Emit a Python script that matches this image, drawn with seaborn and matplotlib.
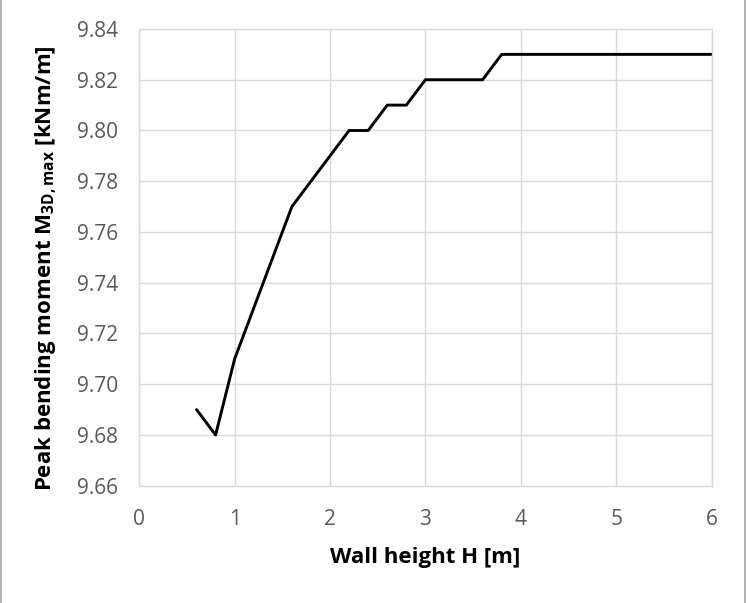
import matplotlib
matplotlib.use("Agg")
import matplotlib.pyplot as plt
from matplotlib.lines import Line2D
import seaborn as sns
import pandas as pd

# Wall height H [m] and peak bending moment M_3D,max [kNm/m]
wall_height = [0.6, 0.8, 1.0, 1.2, 1.4, 1.6, 1.8, 2.0, 2.2, 2.4, 2.6, 2.8,
               3.0, 3.2, 3.4, 3.6, 3.8, 4.0, 4.5, 5.0, 5.5, 6.0]
peak_moment = [9.69, 9.68, 9.71, 9.73, 9.75, 9.77, 9.78, 9.79, 9.80, 9.80, 9.81, 9.81,
               9.82, 9.82, 9.82, 9.82, 9.83, 9.83, 9.83, 9.83, 9.83, 9.83]
x_ticks = [0, 1, 2, 3, 4, 5, 6]
y_ticks = [9.66, 9.68, 9.70, 9.72, 9.74, 9.76, 9.78, 9.80, 9.82, 9.84]

sns.set_theme(style="white")
plt.rcParams["font.family"] = ["Open Sans", "DejaVu Sans"]
plt.rcParams["mathtext.fontset"] = "custom"
plt.rcParams["mathtext.rm"] = "Open Sans"
plt.rcParams["mathtext.bf"] = "Open Sans:bold"

df = pd.DataFrame({"H": wall_height, "M": peak_moment})

fig = plt.figure(figsize=(7.47, 6.03), dpi=100)
ax = fig.add_axes([139.3 / 747, 1 - 485.7 / 603, (711.5 - 139.3) / 747, (485.7 - 29) / 603])

sns.lineplot(data=df, x="H", y="M", ax=ax, color="black", linewidth=2.1, sort=False)

ax.set_xlim(0, 6)
ax.set_ylim(9.66, 9.84)
ax.set_xticks(x_ticks)
ax.set_xticklabels([str(t) for t in x_ticks])
ax.set_yticks(y_ticks)
ax.set_yticklabels([f"{t:.2f}" for t in y_ticks])
ax.tick_params(axis="both", length=0, labelsize=15, colors="#595959")
ax.tick_params(axis="x", pad=17)
ax.tick_params(axis="y", pad=15)

ax.grid(True, color="#d9d9d9", linewidth=1.0)
for side in ax.spines.values():
    side.set_color("#d9d9d9")
    side.set_linewidth(1.0)

ax.set_xlabel("Wall height H [m]", fontsize=16, fontweight="bold", color="black", labelpad=12)
ax.set_ylabel(r"Peak bending moment M$_{\mathbf{3D,max}}$ [kNm/m]", fontsize=16,
              fontweight="bold", color="black")
ax.yaxis.set_label_coords(-0.141, 0.477)

# chart-area frame on the left and right edges
fig.add_artist(Line2D([1.0 / 747, 1.0 / 747], [0, 1], transform=fig.transFigure,
                      color="#a6a6a6", linewidth=1.2))
fig.add_artist(Line2D([744.5 / 747, 744.5 / 747], [0, 1], transform=fig.transFigure,
                      color="#a6a6a6", linewidth=1.2))

fig.savefig("out.png", dpi=100)
